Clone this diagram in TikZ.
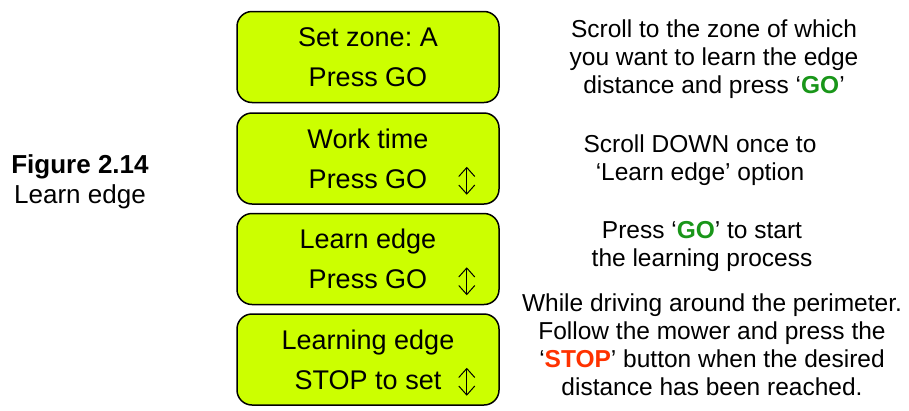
\documentclass[tikz,border=0pt]{standalone}
\usepackage{fontspec}
\setmainfont{Liberation Sans}
\usepackage{xcolor}
\usepackage{tikz}
\usetikzlibrary{arrows.meta,positioning}
\frenchspacing
\definecolor{lcdLime}{RGB}{204,255,0}
\definecolor{goGreen}{RGB}{25,150,25}
\definecolor{stopRed}{RGB}{255,50,0}
\tikzset{
  lcdbox/.style={
    rectangle, rounded corners=15pt, draw=black, line width=1.5pt,
    fill=lcdLime, minimum width=262pt, minimum height=91pt,
    align=center, font=\fontsize{27}{40}\selectfont, inner sep=0pt
  },
  notetext/.style={
    align=center, anchor=north, inner sep=0pt,
    font=\fontsize{24.5}{28}\selectfont
  },
  scrollArrow/.style={
    {Straight Barb[length=9pt,width=16pt,line width=1pt]}-{Straight Barb[length=9pt,width=16pt,line width=1pt]},
    line width=1pt
  }
}

\begin{document}
\begin{tikzpicture}[x=1pt,y=-1pt]
        \useasboundingbox (0,0) rectangle (909,410);
        % lcd screens
        \node[lcdbox] (zone) at (368,57)
          {Set zone: A\\Press GO};
        \node[lcdbox, below=9pt of zone] (work)
          {Work time\\Press GO};
        \node[lcdbox, below=8pt of work] (learn)
          {Learn edge\\Press GO};
        \node[lcdbox, below=8pt of learn] (learning)
          {Learning edge\\STOP to set};
        % scroll arrows
        \foreach \scr in {work,learn,learning}
          \draw[scrollArrow] ([xshift=-33pt,yshift=38pt]\scr.south east)
            -- ([xshift=-33pt,yshift=10pt]\scr.south east);
        % caption
        \node[align=center, anchor=north, inner sep=0pt,
              font=\fontsize{26}{30}\selectfont] (caption) at (80,154)
          {\textbf{Figure 2.14}\\Learn edge};
        % instructions
        \node[notetext] (zonenote) at (714,20)
          {Scroll to the zone of which\\you want to learn the edge\\
           distance and press `{\bfseries\color{goGreen}GO}'};
        \node[notetext] (worknote) at (700,135)
          {Scroll DOWN once to\\`Learn edge' option};
        \node[notetext] (learnnote) at (702,221)
          {Press `{\bfseries\color{goGreen}GO}' to start\\the learning process};
        \node[notetext] (learningnote) at (712,294)
          {While driving around the perimeter.\\Follow the mower and press the\\
           `{\bfseries\color{stopRed}STOP}' button when the desired\\
           distance has been reached.};
      \end{tikzpicture}
\end{document}
